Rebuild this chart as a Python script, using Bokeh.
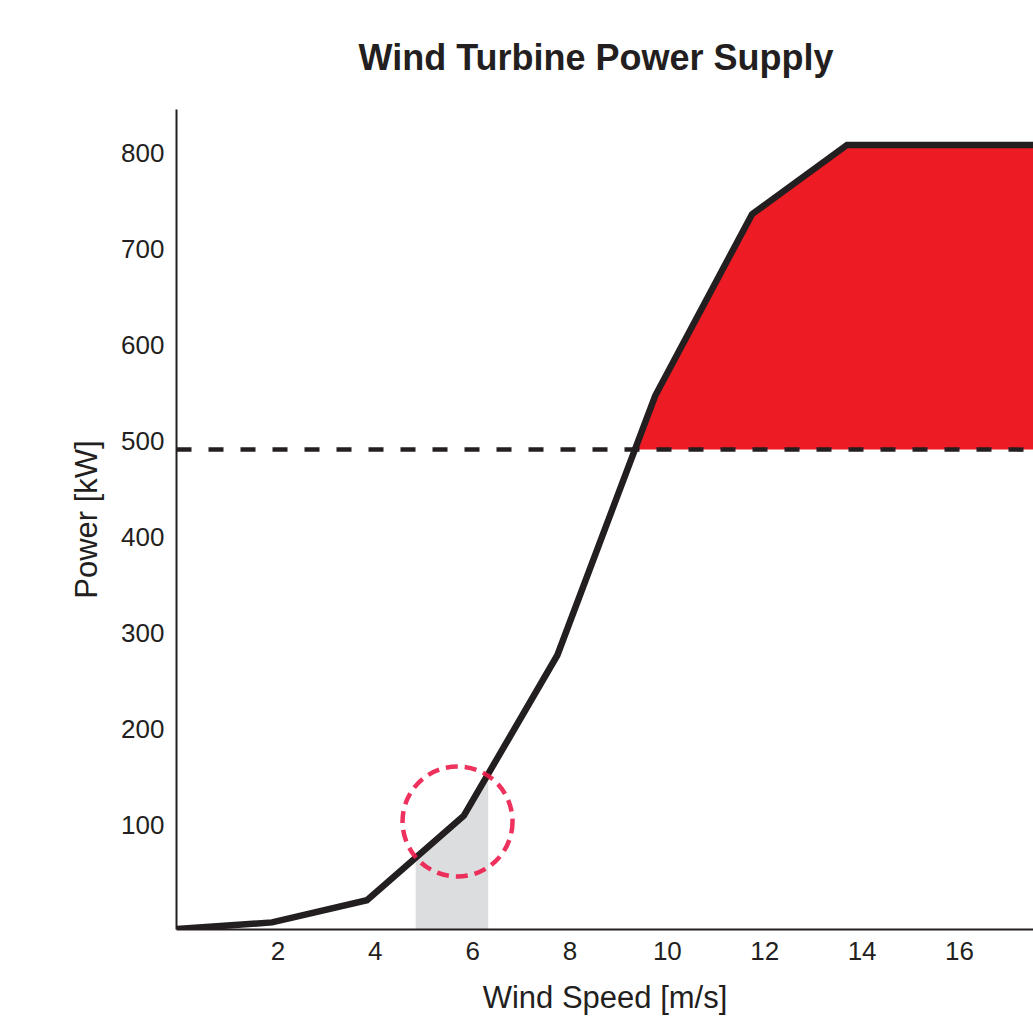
import numpy as np
from bokeh.plotting import figure
from bokeh.models import Range1d, FixedTicker, Span
from bokeh.embed import file_html
from bokeh.resources import INLINE

# ---- data ----
speed = [-0.07, 1.88, 3.83, 5.82, 7.74, 9.75, 11.74, 13.69, 18.0]
power = [-8, -1, 22, 110, 277, 547, 736, 808, 808]
x_ticks = [2, 4, 6, 8, 10, 12, 14, 16]
y_ticks = [100, 200, 300, 400, 500, 600, 700, 800]
threshold = 491
band = [4.83, 6.32]
marker_speed = [5.69]
marker_power = [104]

INK = "#231f20"
FONT = "Liberation Sans"

x_start, x_end = -0.082, 17.52
y_start, y_end = -8.4, 844.9

p = figure(width=1033, height=1021, output_backend="svg", toolbar_location=None,
           x_range=Range1d(x_start, x_end), y_range=Range1d(y_start, y_end),
           title="Wind Turbine Power Supply",
           min_border_left=176, min_border_right=0, min_border_top=109,
           min_border_bottom=92)
p.outline_line_color = None
p.grid.visible = False
p.background_fill_color = "white"
p.border_fill_color = "white"

p.title.text_font = FONT
p.title.text_font_size = "36px"
p.title.text_font_style = "bold"
p.title.text_color = INK
p.title.align = "left"
p.title.offset = 182
p.title.standoff = 64

for ax in (p.xaxis[0], p.yaxis[0]):
    ax.axis_line_color = INK
    ax.axis_line_width = 2
    ax.major_tick_line_color = None
    ax.minor_tick_line_color = None
    ax.major_tick_out = 0
    ax.major_tick_in = 0
    ax.major_label_text_font = FONT
    ax.major_label_text_font_size = "26px"
    ax.major_label_text_color = INK
    ax.axis_label_text_font = FONT
    ax.axis_label_text_font_size = "31px"
    ax.axis_label_text_font_style = "normal"
    ax.axis_label_text_color = INK

p.xaxis.ticker = FixedTicker(ticks=x_ticks)
p.yaxis.ticker = FixedTicker(ticks=y_ticks)
p.xaxis.axis_label = "Wind Speed [m/s]"
p.yaxis.axis_label = "Power [kW]"
p.xaxis.major_label_standoff = 12
p.yaxis.major_label_standoff = 12
p.xaxis.axis_label_standoff = 17
p.yaxis.axis_label_standoff = 14

# grey band under the curve
inside = [s for s in speed if band[0] < s < band[1]]
gx = [band[0]] + inside + [band[1]]
gtop = np.interp(gx, speed, power)
p.varea(x=gx, y1=y_start, y2=gtop, fill_color="#dcdddf")

# red area above the threshold
x_cross = float(np.interp(threshold, power, speed))
rx = [x_cross] + [s for s, w in zip(speed, power) if w > threshold]
rtop = np.interp(rx, speed, power)
p.varea(x=rx, y1=threshold, y2=rtop, fill_color="#ed1c24")

# dashed threshold line
p.add_layout(Span(location=threshold, dimension="width", line_color=INK,
                  line_width=4.5, line_dash="15 17"))

# power curve
p.line(speed, power, line_color=INK, line_width=6.5, line_join="miter")

# dashed circle marker
p.scatter(x=marker_speed, y=marker_power, marker="circle", size=110,
          fill_color=None, line_color="#ec1c4b", line_alpha=0.9,
          line_width=4.5, line_dash="12 7")

open("out.html", "w").write(file_html(p, INLINE))
